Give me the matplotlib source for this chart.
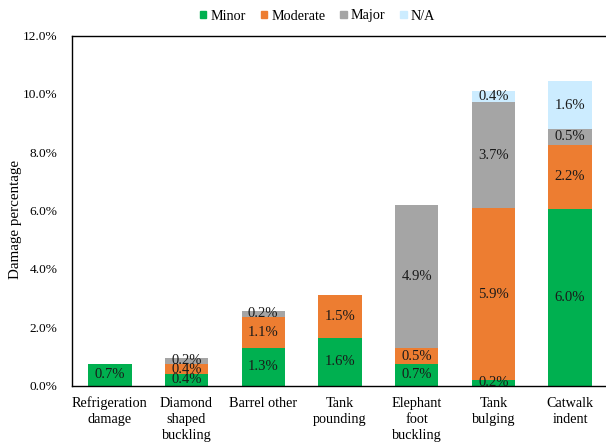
import matplotlib
matplotlib.use("Agg")
import matplotlib.pyplot as plt
from matplotlib.patches import Patch
import numpy as np

categories = ["Refrigeration\ndamage", "Diamond\nshaped\nbuckling", "Barrel other",
              "Tank\npounding", "Elephant\nfoot\nbuckling", "Tank\nbulging", "Catwalk\nindent"]
minor = [0.74, 0.38, 1.29, 1.62, 0.74, 0.20, 6.05]
moderate = [0.0, 0.37, 1.06, 1.50, 0.53, 5.87, 2.21]
major = [0.0, 0.20, 0.21, 0.0, 4.93, 3.66, 0.53]
na = [0.0, 0.0, 0.0, 0.0, 0.0, 0.36, 1.64]
series_names = ["Minor", "Moderate", "Major", "N/A"]
colors = ["#00B050", "#ED7D31", "#A5A5A5", "#CCECFF"]
yticks = [0, 2, 4, 6, 8, 10, 12]

plt.rcParams['font.family'] = ['Liberation Serif', 'DejaVu Serif']

W, H = 606, 443
fig = plt.figure(figsize=(W / 100, H / 100), dpi=100)
left_px, right_px, top_px, bot_px = 71.5, 606, 35.5, 385.5
ax = fig.add_axes([left_px / W, 1 - bot_px / H, (right_px - left_px) / W, (bot_px - top_px) / H])

x = np.arange(len(categories))
spacing_px = 76.7
bw = 0.567
bottom = np.zeros(len(categories))
for vals, name, c in zip([minor, moderate, major, na], series_names, colors):
    v = np.array(vals)
    ax.bar(x, v, bw, bottom=bottom, color=c, label=name, linewidth=0)
    for xi, vi, bi in zip(x, v, bottom):
        if vi > 0:
            ax.text(xi, bi + vi / 2, f"{vi:.1f}%", ha="center", va="center", fontsize=10.5, color="#1a1a1a")
    bottom += v

ax.set_ylim(0, 12)
ax.set_xlim(-0.5, -0.5 + (right_px - left_px) / spacing_px)
ax.set_yticks(yticks)
ax.set_yticklabels([f"{t:.1f}%" for t in yticks], fontsize=9.6)
ax.set_xticks(x)
ax.set_xticklabels(categories, fontsize=10.3, linespacing=1.3)
ax.tick_params(axis="y", length=0, pad=10)
ax.tick_params(axis="x", length=0, pad=8)
ax.spines["right"].set_visible(False)
for s in ["left", "top", "bottom"]:
    ax.spines[s].set_linewidth(1.0)
    ax.spines[s].set_color("black")

fig.text(16 / W, 1 - 219 / H, "Damage percentage", rotation=90, ha="center", va="center", fontsize=10.8)

handles = [Patch(color=c, label=n) for c, n in zip(colors, series_names)]
fig.legend(handles=handles, loc="center", bbox_to_anchor=(317.5 / W, 1 - 16 / H), ncol=4, frameon=False,
           fontsize=10.2, handlelength=0.45, handleheight=0.45, handletextpad=0.3, columnspacing=1.05,
           borderaxespad=0, borderpad=0)

fig.savefig("out.png", dpi=100)
